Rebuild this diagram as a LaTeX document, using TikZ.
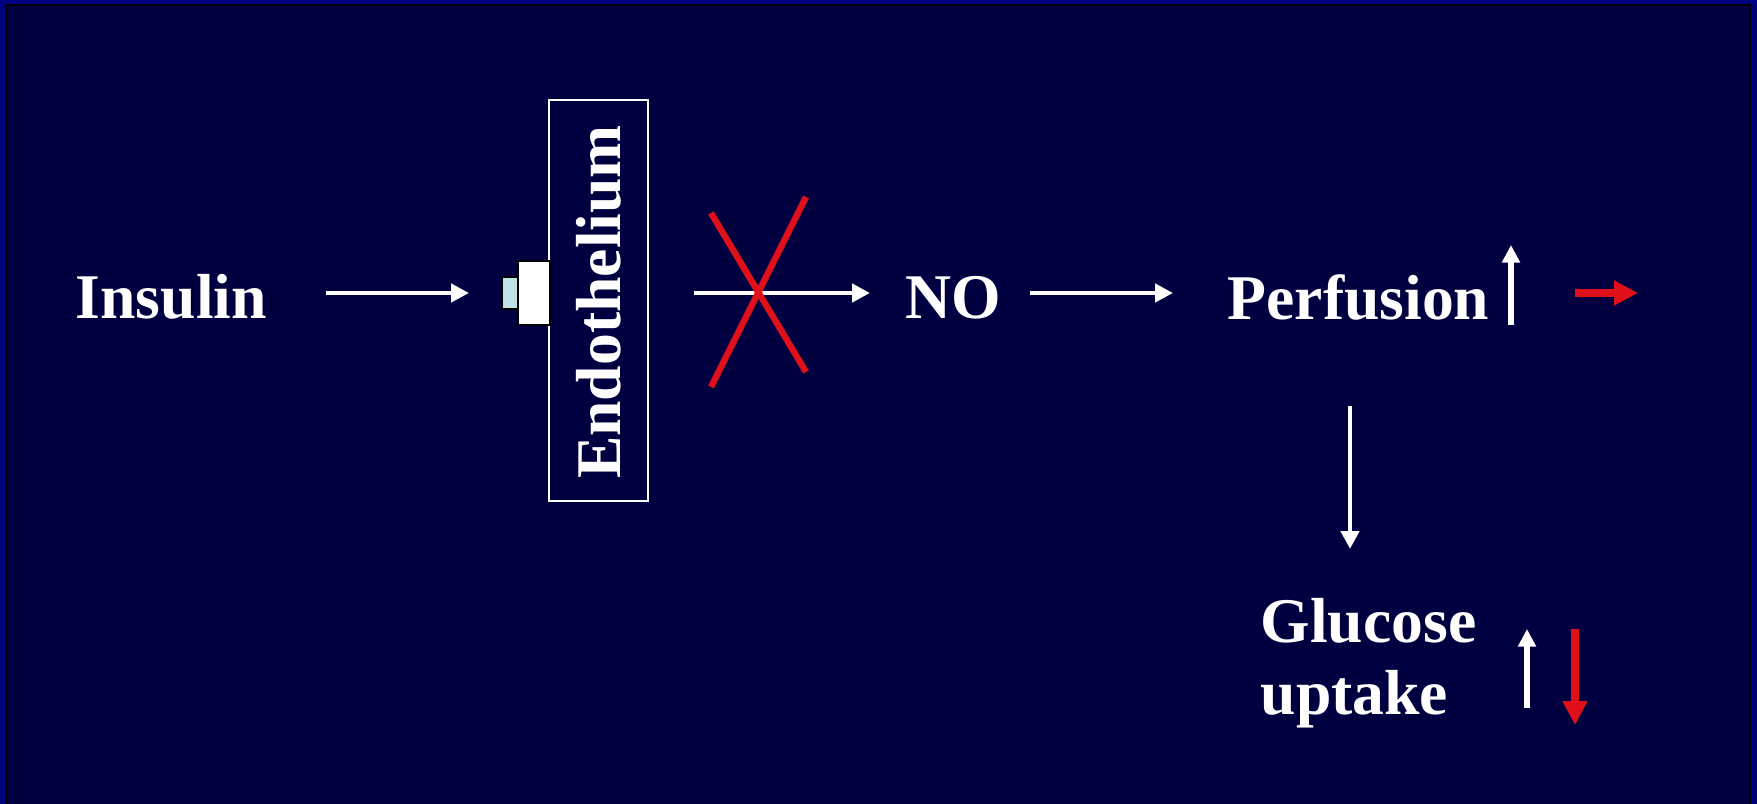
\documentclass[tikz,border=0pt]{standalone}
\usepackage{fontspec}
\setmainfont{Liberation Serif}
\usetikzlibrary{arrows.meta}
\definecolor{bgnavy}{RGB}{0,0,64}
\definecolor{edgeblue}{RGB}{0,0,128}
\definecolor{xred}{RGB}{224,16,26}
\definecolor{rcyan}{RGB}{190,226,230}
\begin{document}
\begin{tikzpicture}[x=0.01cm,y=-0.01cm,
  lbl/.style={text=white, font=\bfseries\fontsize{18.1pt}{20.5pt}\selectfont, inner sep=0pt},
  flow/.style={draw=white, line width=1.4pt, -{Triangle[length=5.1pt,width=5.1pt]}},
  upwhite/.style={draw=white, line width=1.6pt, -{Triangle[length=5pt,width=4.9pt]}},
  redarrow/.style={draw=xred, line width=2.1pt, -{Triangle[length=6.8pt,width=6.7pt]}},
  cross/.style={draw=xred, line width=1.8pt}]
\fill[edgeblue] (0,0) rectangle (1757,804);
\fill[black] (5,4) rectangle (1751,804);
\fill[bgnavy] (7,6) rectangle (1749,804);
\useasboundingbox (0,0) rectangle (1757,804);

% text nodes
\node[lbl, anchor=base west] (insulin) at (75,319) {Insulin};
\node[lbl, anchor=base west] (no) at (905,319) {NO};
\node[lbl, anchor=base west] (perf) at (1227,320) {Perfusion};
\node[lbl, anchor=base west] (gluc) at (1260,643) {Glucose};
\node[lbl, anchor=base west] (uptake) at (1260,715) {uptake};

% endothelium box and receptor
\node[draw=white, line width=0.5pt, minimum width=0.99cm, minimum height=4.01cm, inner sep=0pt] (endo) at (598.5,300.5) {};
\node[lbl, rotate=90, anchor=base] (endotext) at (620,302) {Endothelium};
\node[draw=black, fill=white, line width=0.6pt, minimum width=0.32cm, minimum height=0.64cm, inner sep=0pt] (rec) at (534,293) {};
\node[draw=black, fill=rcyan, line width=0.6pt, minimum width=0.16cm, minimum height=0.32cm, inner sep=0pt] (recb) at (510,293) {};

% coordinates for arrows
\coordinate (a1s) at (326,293); \coordinate (a1e) at (469,293);
\coordinate (a2s) at (694,293); \coordinate (a2e) at (870,293);
\coordinate (a3s) at (1030,293); \coordinate (a3e) at (1173,293);
\coordinate (a4s) at (1350,406); \coordinate (a4e) at (1350,549);
\coordinate (pus) at (1511,325); \coordinate (pue) at (1511,245);
\coordinate (prs) at (1575,293); \coordinate (pre) at (1638,293);
\coordinate (gus) at (1527,708); \coordinate (gue) at (1527,629);
\coordinate (gds) at (1575,629); \coordinate (gde) at (1575,725);
\coordinate (x1a) at (711,213); \coordinate (x1b) at (806,372);
\coordinate (x2a) at (806,197); \coordinate (x2b) at (711,387);

\draw[flow] (a1s) -- (a1e);
\draw[flow] (a2s) -- (a2e);
\draw[flow] (a3s) -- (a3e);
\draw[flow] (a4s) -- (a4e);
\draw[upwhite] (pus) -- (pue);
\draw[redarrow] (prs) -- (pre);
\draw[upwhite] (gus) -- (gue);
\draw[redarrow] (gds) -- (gde);
\draw[cross] (x1a) -- (x1b);
\draw[cross] (x2a) -- (x2b);
\end{tikzpicture}
\end{document}
